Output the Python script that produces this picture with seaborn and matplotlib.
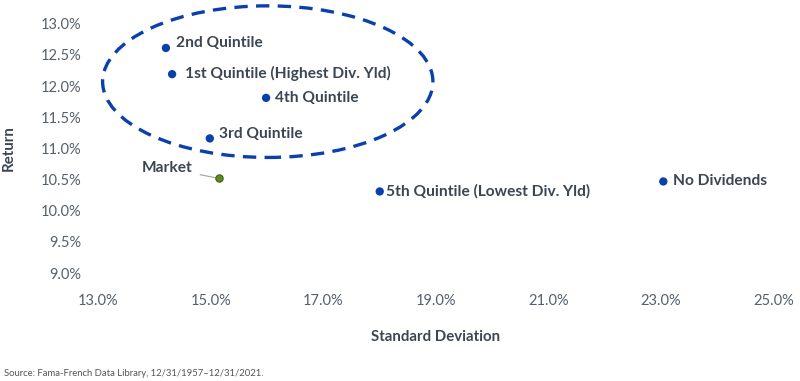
import pandas as pd
import seaborn as sns
import matplotlib.pyplot as plt
from matplotlib.patches import Ellipse
from matplotlib.ticker import FuncFormatter

# values (percent)
names = ['2nd Quintile', '1st Quintile (Highest Div. Yld)', '4th Quintile', '3rd Quintile',
         'Market', '5th Quintile (Lowest Div. Yld)', 'No Dividends']
std_dev = [14.20, 14.31, 15.98, 14.98, 15.14, 18.00, 23.04]
returns = [12.61, 12.19, 11.81, 11.16, 10.52, 10.31, 10.47]
kind = ['quintile', 'quintile', 'quintile', 'quintile', 'market', 'quintile', 'quintile']

df = pd.DataFrame({'name': names, 'sd': std_dev, 'ret': returns, 'kind': kind})

sns.set_style('white')
plt.rcParams['font.family'] = ['Lato', 'DejaVu Sans']

blue = '#0a3fae'
green = '#5b8c1e'
text_col = '#3b4652'
tick_col = '#55606b'

fig = plt.figure(figsize=(8, 3.81), dpi=100)
ax = fig.add_axes([0.123, 0.283, 0.844, 0.655])

sns.scatterplot(data=df[df['kind'] == 'quintile'], x='sd', y='ret', color=blue,
                s=36, edgecolor='none', legend=False, ax=ax, zorder=3)
sns.scatterplot(data=df[df['kind'] == 'market'], x='sd', y='ret', color=green,
                s=28, edgecolor='#3f6612', linewidth=0.8, legend=False, ax=ax, zorder=4)

# label offsets in pixels (dx, dy, ha)
offsets = {
    '2nd Quintile': (10, 5, 'left'),
    '1st Quintile (Highest Div. Yld)': (13, 1, 'left'),
    '4th Quintile': (9, 0, 'left'),
    '3rd Quintile': (9, 4, 'left'),
    'Market': (-26, 10, 'right'),
    '5th Quintile (Lowest Div. Yld)': (6, 0, 'left'),
    'No Dividends': (10, 0, 'left'),
}
for _, r in df.iterrows():
    dx, dy, ha = offsets[r['name']]
    kw = dict(xytext=(dx, dy), textcoords='offset pixels', ha=ha, va='center',
              fontsize=11.2, fontweight='bold', color=text_col)
    if r['name'] == 'Market':
        kw['arrowprops'] = dict(arrowstyle='-', color='#a0a0a0', lw=0.8, shrinkA=3, shrinkB=2)
    ax.annotate(r['name'], (r['sd'], r['ret']), **kw)

ell = Ellipse((16.01, 12.07), width=5.87, height=2.43, fill=False, edgecolor=blue,
              lw=2.4, linestyle=(0, (4, 2.5)), clip_on=False, zorder=2)
ax.add_patch(ell)

ax.set_xlim(13, 25)
ax.set_ylim(9, 13)
ax.set_xticks([13, 15, 17, 19, 21, 23, 25])
ax.set_yticks([9, 9.5, 10, 10.5, 11, 11.5, 12, 12.5, 13])
ax.xaxis.set_major_formatter(FuncFormatter(lambda v, p: f'{v:.1f}%'))
ax.yaxis.set_major_formatter(FuncFormatter(lambda v, p: f'{v:.1f}%'))
ax.tick_params(axis='both', length=0, labelsize=10.5, labelcolor=tick_col)
ax.tick_params(axis='x', pad=15)
ax.tick_params(axis='y', pad=12)
sns.despine(ax=ax, left=True, bottom=True)

ax.set_xlabel('Standard Deviation', fontsize=10.8, fontweight='bold', color=text_col, labelpad=16)
ax.set_ylabel('Return', fontsize=10.8, fontweight='bold', color=text_col, labelpad=18)

fig.text(0.005, 0.013, 'Source: Fama-French Data Library, 12/31/1957\u201312/31/2021.',
         fontsize=6.8, color='#555555')

fig.savefig('out.png', dpi=100)
